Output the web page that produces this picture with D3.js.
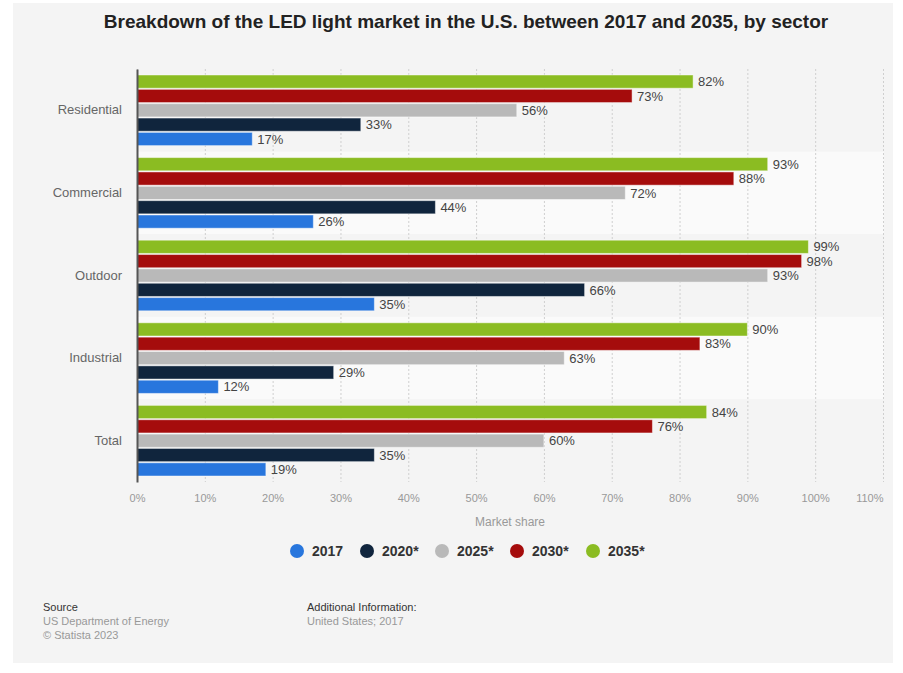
<!DOCTYPE html>
<html>
<head>
<meta charset="utf-8">
<script src="https://cdn.jsdelivr.net/npm/d3@7"></script>
<style>
  body { margin: 0; background: #fff; }
  svg { display: block; font-family: "Liberation Sans", Arial, sans-serif; }
</style>
</head>
<body>
<svg id="chart" width="903" height="673"></svg>
<script>
var categories = ["Residential", "Commercial", "Outdoor", "Industrial", "Total"]
var seriesNames = ["2017", "2020*", "2025*", "2030*", "2035*"]
var colors = ["#2876dd", "#10253d", "#b9b9b9", "#a50c0c", "#8bbc22"]
var values2017 = [17, 26, 35, 12, 19]
var values2020 = [33, 44, 66, 29, 35]
var values2025 = [56, 72, 93, 63, 60]
var values2030 = [73, 88, 98, 83, 76]
var values2035 = [82, 93, 99, 90, 84]
var tickValues = [0, 10, 20, 30, 40, 50, 60, 70, 80, 90, 100, 110]

var allValues = [values2017, values2020, values2025, values2030, values2035]

var margin = { top: 69, left: 137, right: 19, bottom: 191 }
var width = 903, height = 673
var plotW = width - margin.left - margin.right
var plotH = height - margin.top - margin.bottom

var svg = d3.select("#chart")

// panel background
svg.append("rect")
    .attr("x", 13).attr("y", 3)
    .attr("width", 880).attr("height", 660)
    .attr("fill", "#f4f4f4")

svg.append("text")
    .attr("x", 466).attr("y", 28)
    .attr("text-anchor", "middle")
    .attr("font-size", 19)
    .attr("font-weight", "bold")
    .attr("fill", "#222")
    .text("Breakdown of the LED light market in the U.S. between 2017 and 2035, by sector")

var g = svg.append("g").attr("transform", "translate(" + margin.left + "," + margin.top + ")")

var xScale = d3.scaleLinear().domain([0, 110]).range([0, plotW - 1])
var yScale = d3.scaleBand().domain(categories).range([0, plotH]).padding(0)
// 2035 on top, 2017 at the bottom
var inner = d3.scaleBand()
    .domain(seriesNames.slice().reverse())
    .range([6, yScale.bandwidth() - 6])
    .paddingInner(0.08)

// alternating bands
g.selectAll(".band")
    .data(categories)
    .enter().append("rect")
    .attr("class", "band")
    .attr("x", 0)
    .attr("y", function (d) { return yScale(d) })
    .attr("width", plotW)
    .attr("height", yScale.bandwidth())
    .attr("fill", function (d, i) { return i % 2 ? "#fafafa" : "#f4f4f4" })

// grid
var grid = g.append("g")
    .attr("class", "grid")
    .call(d3.axisBottom(xScale).tickValues(tickValues).tickSize(plotH).tickFormat(""))
grid.select(".domain").remove()
grid.selectAll("line")
    .attr("stroke", "#cfcfcf")
    .attr("stroke-dasharray", "2,2")

// bars
var groups = g.selectAll(".cat")
    .data(categories)
    .enter().append("g")
    .attr("class", "cat")
    .attr("transform", function (d) { return "translate(0," + yScale(d) + ")" })

seriesNames.forEach(function (s, si) {
    groups.append("rect")
        .attr("x", 0)
        .attr("y", inner(s))
        .attr("width", function (d, ci) { return xScale(allValues[si][ci]) })
        .attr("height", inner.bandwidth())
        .attr("fill", colors[si])
        .attr("stroke", "rgba(255,255,255,0.45)")
        .attr("stroke-width", 1)
    groups.append("text")
        .attr("x", function (d, ci) { return xScale(allValues[si][ci]) + 5 })
        .attr("y", inner(s) + inner.bandwidth() / 2)
        .attr("dy", "0.36em")
        .attr("font-size", 13)
        .attr("fill", "#444")
        .text(function (d, ci) { return allValues[si][ci] + "%" })
})

// y axis
var yAxis = g.append("g")
    .call(d3.axisLeft(yScale).tickSize(0).tickPadding(15))
yAxis.select(".domain").attr("stroke", "#555").attr("stroke-width", 2)
yAxis.selectAll("text")
    .attr("font-size", 13)
    .attr("fill", "#666")
    .attr("font-family", "Liberation Sans, Arial, sans-serif")

// x axis labels
var xAxis = g.append("g")
    .attr("transform", "translate(0," + plotH + ")")
    .call(d3.axisBottom(xScale).tickValues(tickValues).tickSize(0).tickPadding(12)
        .tickFormat(function (d) { return d + "%" }))
xAxis.select(".domain").remove()
xAxis.selectAll("text")
    .attr("font-size", 11)
    .attr("fill", "#999")
    .attr("font-family", "Liberation Sans, Arial, sans-serif")
    .filter(function (d) { return d === 110 })
    .attr("text-anchor", "end")

g.append("text")
    .attr("x", xScale(55))
    .attr("y", plotH + 44)
    .attr("text-anchor", "middle")
    .attr("font-size", 12)
    .attr("fill", "#999")
    .text("Market share")

// legend
var legendX = [297, 367, 442, 517, 593]
var legend = svg.append("g")
seriesNames.forEach(function (s, i) {
    legend.append("circle")
        .attr("cx", legendX[i]).attr("cy", 551).attr("r", 7)
        .attr("fill", colors[i])
    legend.append("text")
        .attr("x", legendX[i] + 15).attr("y", 556)
        .attr("font-size", 14)
        .attr("font-weight", "bold")
        .attr("fill", "#333")
        .text(s)
})

// footer
var foot = svg.append("g").attr("font-size", 11)
foot.append("text").attr("x", 43).attr("y", 611).attr("fill", "#333").text("Source")
foot.append("text").attr("x", 43).attr("y", 625).attr("fill", "#999").text("US Department of Energy")
foot.append("text").attr("x", 43).attr("y", 639).attr("fill", "#999").text("© Statista 2023")
foot.append("text").attr("x", 307).attr("y", 611).attr("fill", "#333").text("Additional Information:")
foot.append("text").attr("x", 307).attr("y", 625).attr("fill", "#999").text("United States; 2017")
</script>
</body>
</html>
